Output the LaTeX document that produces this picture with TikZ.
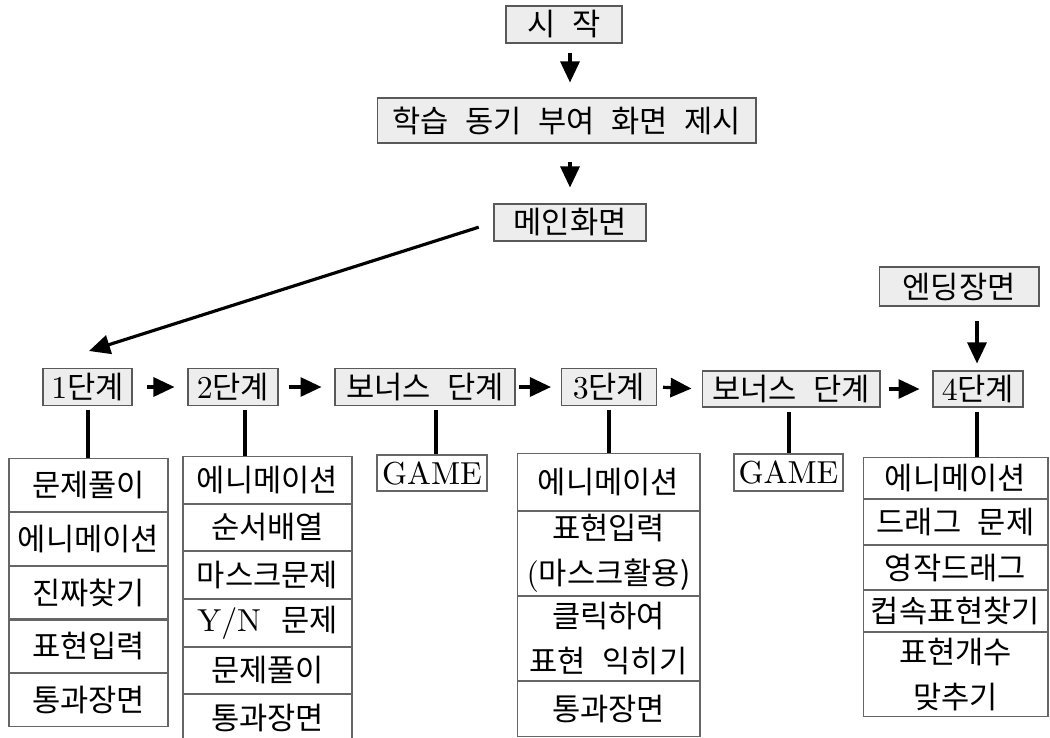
\documentclass[tikz,border=0pt]{standalone}
\usepackage{fontspec}
\setmainfont{lmroman10-regular.otf}
\newfontfamily\kr{Noto Sans CJK KR}[Scale=0.965, WordSpace=2.4]
\usetikzlibrary{arrows.meta}
\begin{document}
\begin{tikzpicture}[x=0.02cm,y=-0.02cm,
  gbox/.style={draw=black!65, fill=black!7, line width=0.6pt, inner sep=0pt},
  cell/.style={draw=black!60, line width=0.6pt, inner sep=0pt, anchor=north, align=center},
  wbox/.style={draw=black!60, line width=0.6pt, inner sep=0pt},
  conn/.style={line width=1.8pt, shorten <=0.08cm},
  arr/.style={line width=1.8pt, -{Triangle[length=0.42cm,width=0.38cm]}},
  font=\fontsize{18.1pt}{25.6pt}\selectfont]
\useasboundingbox (0,0) rectangle (1050,737);

% top column
\node[gbox, minimum width=2.32cm, minimum height=0.74cm] (start) at (564,24.5) {\kr{시 작}};
\node[gbox, minimum width=7.58cm, minimum height=0.9cm] (learn) at (566.5,120.5) {\kr{학습 동기 부여 화면 제시}};
\node[gbox, minimum width=3.04cm, minimum height=0.74cm] (main) at (570,222.5) {\kr{메인화면}};
\node[gbox, minimum width=3.2cm, minimum height=0.78cm] (end) at (959,286.5) {\kr{엔딩장면}};

% stage row
\node[gbox, minimum width=1.78cm, minimum height=0.74cm] (s1) at (87.5,387) {1\kr{단계}};
\node[gbox, minimum width=1.8cm, minimum height=0.74cm] (s2) at (233,387) {2\kr{단계}};
\node[gbox, minimum width=3.6cm, minimum height=0.74cm] (b1) at (425,387) {\kr{보너스 단계}};
\node[gbox, minimum width=1.9cm, minimum height=0.74cm] (s3) at (609,387) {3\kr{단계}};
\node[gbox, minimum width=3.56cm, minimum height=0.72cm] (b2) at (791,389) {\kr{보너스 단계}};
\node[gbox, minimum width=1.8cm, minimum height=0.72cm] (s4) at (978,389) {4\kr{단계}};

% column 1
\begin{scope}[every node/.append style={cell, minimum width=3.18cm, minimum height=1.056cm}]
\node (l1a) at (88.5,458) {\kr{문제풀이}};
\node (l1b) at (l1a.south) {\kr{에니메이션}};
\node (l1c) at (l1b.south) {\kr{진짜찾기}};
\node (l1d) at (l1c.south) {\kr{표현입력}};
\node (l1e) at (l1d.south) {\kr{통과장면}};
\end{scope}

% column 2
\begin{scope}[every node/.append style={cell, minimum width=3.38cm, minimum height=0.932cm}]
\node (l2a) at (267.5,456) {\kr{에니메이션}};
\node (l2b) at (l2a.south) {\kr{순서배열}};
\node (l2c) at (l2b.south) {\kr{마스크문제}};
\node (l2d) at (l2c.south) {Y/N\hspace{0.4cm}\kr{문제}};
\node (l2e) at (l2d.south) {\kr{문제풀이}};
\node (l2f) at (l2e.south) {\kr{통과장면}};
\end{scope}

% GAME boxes
\node[wbox, minimum width=2.2cm, minimum height=0.72cm] (g1) at (432,473) {GAME};
\node[wbox, minimum width=2.18cm, minimum height=0.74cm] (g2) at (788.5,472.5) {GAME};

% column 3
\begin{scope}[every node/.append style={cell, minimum width=3.66cm}]
\node[minimum height=1.14cm] (l3a) at (608.5,453) {\kr{에니메이션}};
\node[minimum height=1.68cm] (l3b) at (l3a.south) {\kr{표현입력}\\(\kr{마스크활용})};
\node[minimum height=1.68cm] (l3c) at (l3b.south) {\kr{클릭하여}\\\kr{표현 익히기}};
\node[minimum height=1.10cm] (l3d) at (l3c.south) {\kr{통과장면}};
\end{scope}

% column 4
\begin{scope}[every node/.append style={cell, minimum width=3.70cm}]
\node[minimum height=0.82cm] (l4a) at (955.5,457) {\kr{에니메이션}};
\node[minimum height=0.90cm] (l4b) at (l4a.south) {\kr{드래그 문제}};
\node[minimum height=0.88cm] (l4c) at (l4b.south) {\kr{영작드래그}};
\node[minimum height=0.82cm] (l4d) at (l4c.south) {\kr{컵속표현찾기}};
\node[minimum height=1.68cm] (l4e) at (l4d.south) {\kr{표현개수}\\\kr{맞추기}};
\end{scope}

% helper coordinates
\coordinate (xa) at (570,0);
\coordinate (tip) at (89,351);
\coordinate (x1) at (88,0);
\coordinate (x2) at (245,0);
\coordinate (xb1) at (436,0);
\coordinate (x3) at (609,0);
\coordinate (xb2) at (789,0);
\coordinate (x4) at (977,0);

% arrows
\draw[arr, shorten <=0.18cm, shorten >=0.3cm] (start.south -| xa) -- (learn.north -| xa);
\draw[arr, shorten <=0.36cm, shorten >=0.32cm] (learn.south -| xa) -- (main.north -| xa);
\draw[arr, shorten <=0.31cm] (main.west) -- (tip);
\draw[arr, shorten <=0.28cm, shorten >=0.14cm] (end.south -| x4) -- (s4.north -| x4);

\draw[arr, shorten <=0.28cm, shorten >=0.26cm] (s1.east) -- (s2.west);
\draw[arr, shorten <=0.2cm, shorten >=0.26cm] (s2.east) -- (b1.west);
\draw[arr, shorten <=0.06cm, shorten >=0.2cm] (b1.east) -- (s3.west);
\draw[arr, shorten <=0.12cm, shorten >=0.2cm] (s3.east) -- (b2.west);
\draw[arr, shorten <=0.16cm, shorten >=0.26cm] (b2.east) -- (s4.west);

% vertical connectors
\draw[conn] (s1.south -| x1) -- (l1a.north -| x1);
\draw[conn] (s2.south -| x2) -- (l2a.north -| x2);
\draw[conn] (b1.south -| xb1) -- (g1.north -| xb1);
\draw[conn] (s3.south -| x3) -- (l3a.north -| x3);
\draw[conn] (b2.south -| xb2) -- (g2.north -| xb2);
\draw[conn] (s4.south -| x4) -- (l4a.north -| x4);
\end{tikzpicture}
\end{document}
